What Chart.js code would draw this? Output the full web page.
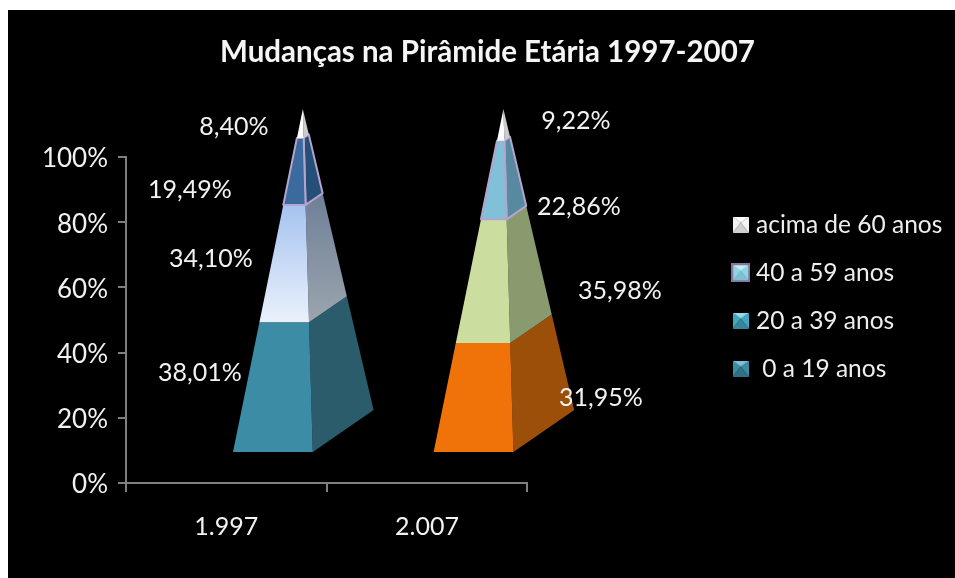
<!DOCTYPE html>
<html><head><meta charset="utf-8">
<style>html,body{margin:0;padding:0;background:#fff}canvas{display:block}</style>
<script src="https://cdn.jsdelivr.net/npm/chart.js@4"></script>
</head><body><canvas id="c" width="955" height="578"></canvas>
<script>
const titleText = 'Mudanças na Pirâmide Etária 1997-2007';
const categories = ['1.997', '2.007'];
const seriesNames = ['0 a 19 anos', '20 a 39 anos', '40 a 59 anos', 'acima de 60 anos'];
const ages0to19 = [38.01, 31.95];
const ages20to39 = [34.10, 35.98];
const ages40to59 = [19.49, 22.86];
const ages60plus = [8.40, 9.22];
const yTicks = [0, 20, 40, 60, 80, 100];

const FONT = 'Lato, Carlito, sans-serif';
const allSeries = [ages0to19, ages20to39, ages40to59, ages60plus];

// [dx,dy] of every value label, from the centre of its (invisible) stacked bar
const labelOffsets = [
  [[-26.5,-48],[174,-32]],
  [[-15.5,-44.5],[193,-29]],
  [[-36.5,-26],[152,-17]],
  [[7.5,-43.7],[149,-51]]
];
// front colours top→bottom, side colours top→bottom, outline
const faces = [
  [{f:['#3c8ca6','#3c8ca6'],s:['#2a5c6b','#2a5c6b']},{f:['#f0730a','#f0730a'],s:['#9c4f08','#9c4f08']}],
  [{f:['#a6c3ef','#eaf1fc'],s:['#6e7f97','#9ca5af']},{f:['#ccdda0','#ccdda0'],s:['#8a9a6f','#8a9a6f']}],
  [{f:['#3a6a9e','#3a6a9e'],s:['#254f77','#254f77'],o:'#b5a4cc'},{f:['#80c0d8','#80c0d8'],s:['#578aa0','#578aa0'],o:'#b5a4cc'}],
  [{f:['#ffffff','#ffffff'],s:['#cccccc','#cccccc']},{f:['#ffffff','#ffffff'],s:['#cccccc','#cccccc']}]
];
function marker(top, side, bottom, outline){
  const c = document.createElement('canvas'); c.width = c.height = outline ? 19 : 16;
  const g = c.getContext('2d'), n = c.width, a = outline ? 2 : 0, b = n - a;
  if (outline){ g.fillStyle = outline; g.fillRect(0,0,n,n); }
  const tri = (col, p) => { g.fillStyle = col; g.beginPath(); g.moveTo(...p[0]); g.lineTo(...p[1]); g.lineTo(...p[2]); g.fill(); };
  const m = n/2, ct=[m,m-2];
  tri(side,[[a,a],[a,b],ct]); tri(side,[[b,a],[b,b],ct]);
  tri(bottom,[[a,b],[b,b],ct]); tri(top,[[a,a],[b,a],ct]);
  return c;
}
const markers = [
  marker('#7cc4d8','#3c8ca6','#2f7286'),
  marker('#8fdcea','#45a5c0','#37879c'),
  marker('#c4eef5','#8fd4e4','#7cc0d2','#84769c'),
  marker('#ffffff','#f4f4f4','#d0d0d0')
];

const pyramidPlugin = {
  id:'pyramid',
  beforeDraw(ch){ const g=ch.ctx; g.save(); g.fillStyle='#000'; g.fillRect(8,10,947,568); g.restore(); },
  afterLayout(ch){
    const l = ch.legend;
    l.left = 714.25; l.right = 955; l.top = 189; l.bottom = 430;
    const t = ch.titleBlock; t.left = 0; t.right = 975;
  },
  afterDatasetsDraw(ch){
    const g = ch.ctx, y = ch.scales.y, y0 = y.getPixelForValue(0), y100 = y.getPixelForValue(100);
    const tOf = py => Math.min(1,(y0-py)/(y0-y100));
    ch.data.datasets.forEach((ds,i)=>{
      ch.getDatasetMeta(i).data.forEach((el,j)=>{
        const cx = el.x + 46.5, base = y0 - 30, apexY = y100 - 48;
        const FL=[cx-40,base], FR=[cx+40,base], BR=[cx+101,base-42], A=[cx+30,apexY];
        const at=(P,t)=>[P[0]+(A[0]-P[0])*t,P[1]+(A[1]-P[1])*t];
        const t0=tOf(el.base), t1=tOf(el.y);
        const st=faces[i][j];
        const poly=(pts,cols,o)=>{
          const gr=g.createLinearGradient(0,Math.min(...pts.map(p=>p[1])),0,Math.max(...pts.map(p=>p[1])));
          gr.addColorStop(0,cols[0]); gr.addColorStop(1,cols[1]);
          g.beginPath(); pts.forEach((p,k)=>k?g.lineTo(p[0],p[1]):g.moveTo(p[0],p[1])); g.closePath();
          g.fillStyle=gr; g.fill();
          if(o){g.strokeStyle=o;g.lineWidth=2;g.lineJoin='round';g.stroke();}
        };
        poly([at(FR,t0),at(BR,t0),at(BR,t1),at(FR,t1)],st.s,st.o);
        poly([at(FL,t0),at(FR,t0),at(FR,t1),at(FL,t1)],st.f,st.o);
      });
    });
    g.save();
    g.font='25px '+FONT; g.fillStyle='#f2f2f2'; g.textAlign='center'; g.textBaseline='middle';
    ch.data.datasets.forEach((ds,i)=>{
      ch.getDatasetMeta(i).data.forEach((el,j)=>{
        const txt=ds.data[j].toFixed(2).replace('.',',')+'%';
        const o=labelOffsets[i][j];
        g.fillText(txt,el.x+o[0],(el.y+el.base)/2+o[1]);
      });
    });
    g.restore();
  }
};

new Chart(document.getElementById('c'),{
  type:'bar',
  data:{labels:categories,datasets:allSeries.map((d,i)=>({label:seriesNames[i],data:d,backgroundColor:'rgba(0,0,0,0)',borderWidth:0,stack:'s'}))},
  plugins:[pyramidPlugin],
  options:{
    responsive:false,animation:false,
    layout:{padding:{left:0,right:252,top:0,bottom:0}},
    plugins:{
      title:{display:true,text:titleText,color:'#f5f5f5',font:{family:FONT,size:29.5,weight:'bold',lineHeight:1.2},padding:{top:35,bottom:86.6}},
      tooltip:{enabled:false},
      legend:{display:true,position:'right',align:'start',
        labels:{usePointStyle:true,pointStyleWidth:6,color:'#eeeeee',padding:23.5,font:{family:FONT,size:24.5},
          generateLabels(ch){
            return [3,2,1,0].map(i=>({text:i===0?' '+seriesNames[i]:seriesNames[i],fontColor:'#eeeeee',pointStyle:markers[i],fillStyle:'#000',strokeStyle:'#000',lineWidth:0,hidden:false,datasetIndex:i}));
          }}}
    },
    scales:{
      x:{stacked:true,
        afterFit(s){s.height=95;},
        grid:{drawOnChartArea:false,color:'#7f7f7f',lineWidth:2,tickLength:9,offset:true},
        border:{color:'#7f7f7f',width:2},
        ticks:{color:'#f2f2f2',padding:20,font:{family:FONT,size:25},maxRotation:0}},
      y:{stacked:true,min:0,max:100,
        afterFit(s){s.width=126;},
        afterBuildTicks(s){s.ticks=yTicks.map(v=>({value:v}));},
        grid:{drawOnChartArea:false,color:'#7f7f7f',lineWidth:2,tickLength:8},
        border:{color:'#7f7f7f',width:2},
        ticks:{color:'#f2f2f2',padding:10,labelOffset:2,font:{family:FONT,size:26},callback:v=>v+'%'}}
    }
  }
});
</script></body></html>
